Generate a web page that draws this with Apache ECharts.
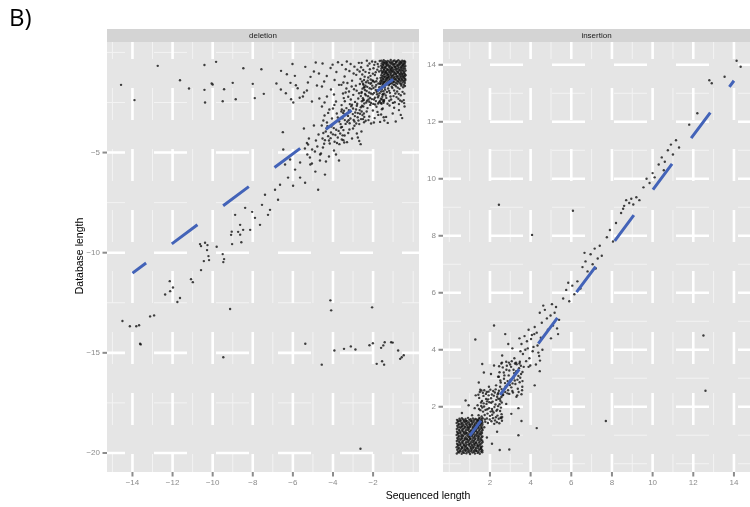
<!DOCTYPE html>
<html><head><meta charset="utf-8">
<script src="https://cdn.jsdelivr.net/npm/echarts@6/dist/echarts.min.js"></script>
<style>html,body{margin:0;padding:0;background:#fff}#c{width:750px;height:507px}</style>
</head><body><div id="c"></div>
<script>
// ---------- facet labels, ticks ----------
const panels = ['deletion', 'insertion'];
const delXTicks = [-14, -12, -10, -8, -6, -4, -2];
const delYTicks = [-20, -15, -10, -5];
const insXTicks = [2, 4, 6, 8, 10, 12, 14];
const insYTicks = [2, 4, 6, 8, 10, 12, 14];
const delXMinor = [-15, -13, -11, -9, -7, -5, -3, -1, 0];
const delYMinor = [-17.5, -12.5, -7.5, -2.5, 0];
const insXMinor = [0, 1, 3, 5, 7, 9, 11, 13];
const insYMinor = [0, 1, 3, 5, 7, 9, 11, 13];

// ---------- fitted lines ----------
const delFitX = [-14, -1];
const delFitY = [-11.02, -1.34];
const insFitX = [1, 14];
const insFitY = [0.98, 13.44];

// ---------- deletion points ----------
const delSquare = [
[-1.59,-0.41],[-1.52,-0.47],[-1.47,-0.39],[-1.38,-0.44],[-1.33,-0.49],[-1.27,-0.42],[-1.19,-0.46],[-1.12,-0.38],[-1.08,-0.48],[-0.99,-0.43],[-0.93,-0.40],[-0.86,-0.47],[-0.81,-0.44],[-0.74,-0.39],[-0.66,-0.45],[-0.61,-0.49],[-0.55,-0.41],[-0.49,-0.46],[-0.44,-0.43],[-0.40,-0.48],
[-1.57,-0.55],[-1.50,-0.60],[-1.43,-0.52],[-1.36,-0.58],[-1.30,-0.54],[-1.23,-0.61],[-1.16,-0.51],[-1.10,-0.57],[-1.03,-0.53],[-0.96,-0.59],[-0.90,-0.56],[-0.84,-0.50],[-0.77,-0.62],[-0.71,-0.54],[-0.64,-0.58],[-0.58,-0.52],[-0.52,-0.60],[-0.47,-0.55],[-0.42,-0.57],[-1.46,-0.51],
[-1.60,-0.66],[-1.54,-0.71],[-1.48,-0.63],[-1.41,-0.73],[-1.34,-0.68],[-1.29,-0.64],[-1.21,-0.70],[-1.14,-0.67],[-1.07,-0.74],[-1.01,-0.62],[-0.94,-0.69],[-0.88,-0.72],[-0.82,-0.65],[-0.75,-0.70],[-0.69,-0.63],[-0.62,-0.73],[-0.56,-0.67],[-0.50,-0.64],[-0.45,-0.71],[-0.39,-0.68],
[-1.58,-0.79],[-1.51,-0.75],[-1.45,-0.84],[-1.39,-0.77],[-1.32,-0.81],[-1.25,-0.86],[-1.18,-0.76],[-1.13,-0.82],[-1.05,-0.78],[-0.98,-0.85],[-0.92,-0.74],[-0.85,-0.80],[-0.79,-0.83],[-0.72,-0.77],[-0.67,-0.86],[-0.60,-0.79],[-0.53,-0.75],[-0.48,-0.83],[-0.41,-0.80],[-1.09,-0.85],
[-1.60,-0.90],[-1.53,-0.95],[-1.46,-0.88],[-1.40,-0.97],[-1.35,-0.92],[-1.28,-0.87],[-1.22,-0.96],[-1.15,-0.89],[-1.09,-0.94],[-1.02,-0.91],[-0.95,-0.98],[-0.89,-0.86],[-0.83,-0.93],[-0.76,-0.97],[-0.70,-0.89],[-0.63,-0.95],[-0.57,-0.88],[-0.51,-0.92],[-0.44,-0.96],[-0.38,-0.90],
[-1.56,-1.03],[-1.49,-0.99],[-1.42,-1.08],[-1.37,-1.01],[-1.30,-1.06],[-1.24,-1.10],[-1.17,-1.00],[-1.11,-1.05],[-1.04,-0.98],[-0.97,-1.09],[-0.91,-1.02],[-0.85,-1.07],[-0.78,-0.99],[-0.73,-1.04],[-0.65,-1.08],[-0.59,-1.01],[-0.54,-1.06],[-0.46,-1.03],[-0.41,-1.09],[-1.33,-1.00],
[-1.59,-1.14],[-1.52,-1.19],[-1.47,-1.11],[-1.40,-1.21],[-1.33,-1.16],[-1.26,-1.12],[-1.20,-1.20],[-1.13,-1.13],[-1.06,-1.18],[-1.00,-1.15],[-0.93,-1.22],[-0.87,-1.10],[-0.80,-1.17],[-0.74,-1.21],[-0.68,-1.13],[-0.61,-1.19],[-0.55,-1.11],[-0.49,-1.16],[-0.43,-1.20],[-0.38,-1.14],
[-1.57,-1.26],[-1.50,-1.31],[-1.44,-1.23],[-1.37,-1.33],[-1.31,-1.28],[-1.24,-1.24],[-1.18,-1.32],[-1.10,-1.25],[-1.04,-1.30],[-0.97,-1.27],[-0.90,-1.34],[-0.84,-1.22],[-0.78,-1.29],[-0.71,-1.33],[-0.64,-1.25],[-0.58,-1.31],[-0.52,-1.23],[-0.46,-1.28],[-0.40,-1.32],[-1.28,-1.26],
[-1.60,-1.38],[-1.54,-1.43],[-1.48,-1.35],[-1.41,-1.45],[-1.35,-1.40],[-1.28,-1.36],[-1.21,-1.44],[-1.15,-1.37],[-1.08,-1.42],[-1.01,-1.39],[-0.95,-1.46],[-0.88,-1.34],[-0.82,-1.41],[-0.76,-1.45],[-0.69,-1.37],[-0.62,-1.43],[-0.56,-1.35],[-0.50,-1.40],[-0.44,-1.44],[-0.39,-1.38],
[-1.58,-1.50],[-1.51,-1.56],[-1.45,-1.47],[-1.38,-1.60],[-1.32,-1.53],[-1.25,-1.49],[-1.19,-1.58],[-1.12,-1.51],[-1.05,-1.55],[-0.99,-1.48],[-0.92,-1.61],[-0.86,-1.52],[-0.79,-1.57],[-0.73,-1.46],[-0.66,-1.54],[-0.60,-1.59],[-0.53,-1.50],[-0.47,-1.62],[-0.42,-1.53],[-1.16,-1.57]
];
const delNear = [
// (-2,-2)
[-2.55,-1.45],[-2.48,-1.62],[-2.41,-1.88],[-2.36,-2.14],[-2.30,-2.41],[-2.22,-1.52],[-2.17,-1.79],[-2.11,-2.05],[-2.06,-2.33],[-1.99,-2.57],[-1.93,-1.48],[-1.88,-1.71],[-1.82,-1.97],[-1.76,-2.24],[-1.70,-2.49],[-1.63,-1.58],[-1.57,-1.84],[-1.51,-2.10],[-1.45,-2.37],[-2.58,-2.03],[-2.51,-2.29],[-2.44,-2.55],[-2.38,-1.66],[-2.32,-1.93],[-2.25,-2.19],[-2.19,-2.46],[-2.13,-1.57],[-2.08,-1.83],[-2.02,-2.09],[-1.96,-2.35],[-1.90,-2.60],[-1.84,-1.62],[-1.78,-1.90],[-1.72,-2.16],[-1.66,-2.42],[-1.60,-1.95],[-1.54,-2.21],[-1.48,-2.51],[-1.42,-1.75],[-2.56,-2.44],[-2.46,-1.75],[-2.34,-2.50],[-2.27,-1.41],[-2.15,-2.27],[-2.04,-1.66],[-1.95,-2.02],[-1.86,-2.43],[-1.74,-1.55],[-1.68,-2.04],[-1.58,-2.56],[-1.47,-1.52],[-2.53,-1.81],[-2.40,-2.08],[-2.29,-1.72],[-2.20,-2.00],[-2.10,-2.52],[-1.98,-1.78],[-1.91,-2.26],[-1.80,-2.09],[-1.69,-1.74],[-1.61,-2.31],[-1.52,-1.64],[-1.44,-2.06],[-2.47,-2.36],[-2.23,-2.35],[-2.00,-1.43],[-1.87,-1.88],[-1.75,-2.55],[-1.64,-1.45],[-1.49,-2.44],
// (-2,-1)
[-2.57,-0.52],[-2.49,-0.88],[-2.42,-1.21],[-2.35,-1.49],[-2.27,-0.66],[-2.20,-1.02],[-2.12,-1.35],[-2.05,-0.45],[-1.98,-0.79],[-1.91,-1.13],[-1.84,-1.44],[-1.77,-0.58],[-1.70,-0.95],[-1.63,-1.27],[-2.54,-1.10],[-2.45,-1.38],[-2.31,-0.41],[-2.24,-1.25],[-2.16,-0.84],[-2.09,-1.52],[-2.01,-1.06],[-1.94,-0.62],[-1.87,-0.99],[-1.80,-1.30],[-1.73,-0.71],[-1.66,-1.55],[-2.60,-0.74],[-2.38,-0.97],[-2.18,-0.55],[-2.03,-1.40],[-1.89,-0.48],[-1.79,-0.86],[-1.67,-0.43],[-2.50,-1.56],[-2.13,-1.17],
// (-1,-2)
[-1.58,-1.72],[-1.52,-2.10],[-1.46,-2.43],[-1.40,-1.86],[-1.34,-2.27],[-1.28,-2.56],[-1.22,-1.64],[-1.16,-2.02],[-1.10,-2.35],[-1.04,-1.78],[-0.98,-2.18],[-0.92,-2.49],[-0.86,-1.69],[-0.80,-1.95],[-0.74,-2.31],[-0.68,-1.82],[-0.62,-2.14],[-0.56,-2.45],[-0.50,-1.74],[-0.44,-2.06],[-1.55,-2.35],[-1.43,-1.66],[-1.31,-1.98],[-1.19,-2.41],[-1.07,-1.71],[-0.95,-1.90],[-0.83,-2.23],[-0.71,-2.58],[-0.59,-1.66],[-0.47,-2.38],[-1.49,-1.94],[-1.37,-2.15],[-1.25,-1.80],[-1.13,-2.20],[-1.01,-2.52],[-0.89,-2.05],[-0.77,-1.76],[-0.65,-2.40],[-0.53,-1.97],[-0.41,-1.68],[-1.61,-2.52],[-1.20,-1.92],[-0.97,-1.62],[-0.72,-2.07],[-0.45,-2.53],
// (-3..-5,-1)
[-3.55,-0.62],[-3.42,-1.20],[-3.31,-0.45],[-3.18,-0.93],[-3.05,-1.41],[-2.93,-0.71],[-2.84,-1.12],[-2.71,-0.52],[-2.63,-1.33],[-3.48,-1.50],[-3.12,-0.58],[-2.97,-1.05],[-2.78,-0.86],[-3.36,-0.84],[-2.67,-0.95],
[-4.52,-0.55],[-4.31,-1.18],[-4.12,-0.78],[-3.92,-1.38],[-3.75,-0.49],[-4.44,-1.45],[-3.83,-0.98],[-4.02,-0.61],
[-5.38,-0.72],[-5.12,-1.22],[-4.86,-0.50],[-4.70,-1.05],[-5.25,-1.50],[-4.95,-0.95],
// (-3,-2)
[-3.58,-1.62],[-3.50,-2.05],[-3.41,-2.44],[-3.33,-1.80],[-3.24,-2.21],[-3.16,-2.58],[-3.07,-1.70],[-2.99,-2.12],[-2.90,-2.47],[-2.82,-1.91],[-2.74,-2.30],[-2.66,-1.58],[-2.57,-1.98],[-2.49,-2.39],[-2.43,-1.74],[-3.46,-2.28],[-3.28,-1.53],[-3.11,-2.35],[-2.95,-1.84],[-2.79,-2.56],[-2.61,-2.18],[-3.37,-2.00],[-3.20,-1.95],[-2.86,-1.66],[-2.70,-2.04],
// (-4..-5,-2)
[-4.55,-1.70],[-4.30,-2.20],[-4.10,-1.85],[-3.85,-2.45],[-3.70,-1.62],[-4.42,-2.50],[-3.95,-2.10],[-5.30,-1.90],[-5.05,-2.45],[-4.80,-1.65],[-4.68,-2.30],[-5.50,-2.20],
// (-2,-3)
[-2.55,-2.66],[-2.46,-3.05],[-2.37,-3.41],[-2.28,-2.78],[-2.19,-3.20],[-2.10,-3.55],[-2.01,-2.90],[-1.92,-3.28],[-1.83,-2.71],[-1.74,-3.12],[-1.65,-3.47],[-1.56,-2.84],[-1.47,-3.24],[-2.50,-3.33],[-2.32,-2.95],[-2.14,-2.62],[-1.96,-3.50],[-1.78,-2.97],[-1.60,-3.10],[-2.23,-3.38],
// (-1,-3)
[-1.52,-2.80],[-1.35,-3.22],[-1.18,-2.65],[-1.02,-3.05],[-0.87,-3.45],[-0.71,-2.88],[-0.55,-3.28],[-0.43,-2.70],[-1.27,-3.52],[-0.95,-2.76],[-0.62,-3.12],[-1.44,-3.40],
// (-3,-3)
[-3.57,-2.63],[-3.49,-3.02],[-3.41,-3.38],[-3.33,-2.78],[-3.25,-3.17],[-3.17,-3.54],[-3.09,-2.69],[-3.01,-3.08],[-2.93,-3.45],[-2.85,-2.85],[-2.77,-3.24],[-2.69,-3.58],[-2.61,-2.74],[-2.53,-3.13],[-2.45,-3.49],[-3.53,-3.29],[-3.45,-2.91],[-3.37,-3.57],[-3.21,-2.88],[-3.13,-3.30],[-3.05,-2.61],[-2.97,-3.37],[-2.89,-3.00],[-2.81,-2.66],[-2.73,-3.40],[-2.65,-3.06],[-2.57,-2.95],[-2.49,-2.70],[-3.29,-3.46],[-3.00,-2.80],[-2.84,-3.55],[-2.60,-3.33],[-3.40,-3.10],[-3.15,-2.98],[-2.91,-3.18],[-2.67,-2.88],[-2.44,-3.22],[-3.56,-2.85],[-3.22,-3.39],[-2.76,-3.03],
// (-4,-3)
[-4.55,-2.70],[-4.42,-3.15],[-4.30,-3.50],[-4.18,-2.85],[-4.05,-3.30],[-3.93,-2.62],[-3.81,-3.05],[-3.69,-3.45],[-3.58,-2.95],[-4.48,-3.40],[-4.24,-3.02],[-4.00,-2.80],[-3.76,-3.25],[-3.62,-3.58],
// (-3,-4)
[-3.55,-3.72],[-3.42,-4.15],[-3.30,-4.48],[-3.18,-3.85],[-3.05,-4.30],[-2.93,-3.66],[-2.81,-4.05],[-2.69,-4.42],[-2.58,-3.95],[-3.48,-4.38],[-3.24,-4.02],[-3.00,-3.80],[-2.76,-4.25],[-2.62,-4.58],
// (-4,-4)
[-4.56,-3.65],[-4.48,-4.02],[-4.40,-4.38],[-4.32,-3.80],[-4.24,-4.18],[-4.16,-4.55],[-4.08,-3.70],[-4.00,-4.09],[-3.92,-4.46],[-3.84,-3.86],[-3.76,-4.25],[-3.68,-4.58],[-3.60,-3.75],[-3.52,-4.14],[-3.44,-4.50],[-4.52,-4.30],[-4.36,-3.95],[-4.20,-4.40],[-4.04,-3.62],[-3.88,-4.12],[-3.72,-3.92],[-3.56,-4.35],[-4.44,-4.56],[-4.12,-4.28],[-3.96,-3.78],[-3.80,-4.52],[-3.64,-4.05],[-4.28,-3.68],[-3.48,-3.88],[-4.10,-4.00],
// (-5,-4) (-4,-5) (-5,-5)
[-5.45,-3.80],[-5.20,-4.30],[-4.95,-3.65],[-4.72,-4.10],[-5.30,-4.52],[-4.85,-4.40],
[-4.50,-4.75],[-4.20,-5.20],[-3.95,-4.90],[-3.70,-5.40],[-4.35,-5.45],[-3.85,-5.10],
[-5.40,-4.80],[-5.15,-5.25],[-4.90,-4.95],[-4.65,-5.40],[-5.05,-5.55],[-4.78,-4.70],[-5.28,-5.10],[-4.60,-5.05]
];
const delTail = [
// sparse points near the top
[-14.57,-1.62],[-13.90,-2.38],[-12.74,-0.67],[-11.63,-1.39],[-11.18,-1.80],[-10.41,-0.63],[-9.83,-0.47],[-10.41,-1.87],[-10.38,-2.50],[-10.05,-1.55],[-10.00,-1.60],[-9.43,-1.84],[-9.50,-2.44],[-9.00,-1.52],[-8.85,-2.34],[-8.47,-0.79],[-8.00,-1.57],[-7.90,-2.28],[-7.57,-0.84],[-7.45,-2.07],[-6.82,-1.55],[-6.59,-0.92],[-6.60,-1.85],[-6.30,-1.09],[-6.12,-1.52],[-6.02,-0.58],[-5.90,-1.17],[-6.35,-2.04],[-6.09,-2.34],[-5.98,-2.50],[-5.76,-1.79],[-5.66,-2.26],[-6.50,-3.98],[-5.85,-1.64],[-5.44,-2.00],
// diagonal
[-6.48,-4.85],[-6.14,-5.35],[-5.89,-5.85],[-5.64,-6.25],[-5.39,-6.51],[-5.13,-5.60],[-4.88,-5.95],[-4.64,-5.10],[-6.24,-6.25],[-5.99,-6.66],[-5.64,-5.50],[-6.39,-5.60],[-5.04,-4.85],[-4.40,-6.10],[-4.74,-6.86],[-5.24,-4.60],
[-7.89,-8.26],[-7.54,-7.61],[-7.39,-7.11],[-7.14,-7.86],[-6.89,-6.86],[-6.74,-7.36],[-7.64,-8.61],[-8.13,-8.86],[-7.24,-8.11],[-6.64,-6.61],[-8.88,-8.11],[-8.63,-8.61],[-8.38,-7.76],[-8.03,-7.96],[-8.73,-8.96],
[-9.05,-8.95],[-9.08,-9.11],[-8.63,-9.10],[-8.57,-9.48],[-9.03,-9.57],[-8.48,-8.86],
[-10.63,-9.57],[-10.38,-9.50],[-10.26,-9.62],[-10.58,-9.67],[-9.80,-9.70],[-10.28,-9.87],[-10.21,-10.17],[-10.44,-10.42],[-10.18,-10.37],[-9.50,-10.07],[-9.43,-10.32],[-9.47,-10.47],[-10.58,-10.87],[-11.08,-11.32],[-10.99,-11.47],[-12.14,-11.42],[-11.98,-11.74],[-12.12,-11.92],[-12.37,-12.09],[-11.63,-12.26],[-11.76,-12.46],[-9.13,-12.81],[-12.92,-13.13],[-13.12,-13.18],[-14.50,-13.41],[-14.13,-13.67],[-13.81,-13.67],[-13.67,-13.62],[-13.62,-14.55],[-13.59,-14.58],
// lower band
[-9.47,-15.22],[-5.38,-14.55],[-4.56,-15.59],[-3.93,-14.88],[-3.45,-14.80],[-3.11,-14.68],[-2.88,-14.83],[-2.18,-14.62],[-2.01,-14.52],[-1.60,-14.75],[-1.49,-14.63],[-1.42,-14.47],[-1.10,-14.47],[-1.02,-14.49],[-0.75,-14.88],[-0.65,-15.30],[-0.57,-15.22],[-0.47,-15.12],[-1.82,-15.55],[-1.55,-15.42],[-1.45,-15.59],
[-4.13,-12.38],[-4.09,-12.88],[-2.05,-12.73],[-2.63,-19.79]
];

// ---------- insertion points ----------
const insSquare = [
[0.37,0.36],[0.43,0.42],[0.48,0.39],[0.55,0.44],[0.61,0.35],[0.66,0.41],[0.72,0.38],[0.79,0.45],[0.84,0.37],[0.90,0.43],[0.97,0.40],[1.02,0.34],[1.08,0.44],[1.14,0.39],[1.21,0.42],[1.26,0.36],[1.32,0.45],[1.39,0.38],[1.44,0.41],[1.50,0.35],[1.57,0.43],[1.62,0.40],
[0.39,0.49],[0.45,0.53],[0.51,0.46],[0.57,0.51],[0.63,0.55],[0.69,0.47],[0.75,0.52],[0.81,0.48],[0.87,0.54],[0.93,0.50],[0.99,0.46],[1.05,0.53],[1.11,0.49],[1.17,0.55],[1.23,0.47],[1.29,0.51],[1.35,0.45],[1.41,0.54],[1.47,0.48],[1.53,0.52],[1.59,0.50],[1.63,0.46],
[0.36,0.58],[0.42,0.63],[0.47,0.56],[0.53,0.65],[0.60,0.60],[0.65,0.57],[0.71,0.64],[0.78,0.59],[0.83,0.62],[0.89,0.55],[0.96,0.66],[1.01,0.61],[1.07,0.57],[1.13,0.63],[1.20,0.59],[1.25,0.65],[1.31,0.56],[1.38,0.62],[1.43,0.60],[1.49,0.64],[1.56,0.58],[1.61,0.61],
[0.38,0.70],[0.44,0.67],[0.50,0.74],[0.56,0.69],[0.62,0.75],[0.68,0.71],[0.74,0.66],[0.80,0.73],[0.86,0.68],[0.92,0.76],[0.98,0.70],[1.04,0.72],[1.10,0.67],[1.16,0.75],[1.22,0.69],[1.28,0.73],[1.34,0.71],[1.40,0.66],[1.46,0.74],[1.52,0.68],[1.58,0.72],[1.64,0.76],
[0.37,0.80],[0.43,0.85],[0.48,0.78],[0.55,0.83],[0.61,0.87],[0.66,0.79],[0.72,0.82],[0.79,0.86],[0.84,0.77],[0.90,0.84],[0.97,0.81],[1.02,0.87],[1.08,0.78],[1.14,0.83],[1.21,0.80],[1.26,0.85],[1.32,0.76],[1.39,0.82],[1.44,0.86],[1.50,0.79],[1.57,0.84],[1.62,0.81],
[0.39,0.90],[0.45,0.94],[0.51,0.88],[0.57,0.96],[0.63,0.91],[0.69,0.97],[0.75,0.89],[0.81,0.93],[0.87,0.87],[0.93,0.95],[0.99,0.92],[1.05,0.88],[1.11,0.96],[1.17,0.90],[1.23,0.94],[1.29,0.89],[1.35,0.97],[1.41,0.91],[1.47,0.95],[1.53,0.88],[1.59,0.93],[1.63,0.96],
[0.36,1.01],[0.42,1.05],[0.47,0.98],[0.53,1.07],[0.60,1.02],[0.65,0.99],[0.71,1.06],[0.78,1.03],[0.83,1.08],[0.89,1.00],[0.96,1.04],[1.01,0.97],[1.07,1.07],[1.13,1.01],[1.20,1.05],[1.25,0.98],[1.31,1.03],[1.38,1.06],[1.43,0.99],[1.49,1.04],[1.56,1.02],[1.61,1.08],
[0.38,1.12],[0.44,1.09],[0.50,1.16],[0.56,1.11],[0.62,1.17],[0.68,1.13],[0.74,1.10],[0.80,1.15],[0.86,1.08],[0.92,1.18],[0.98,1.12],[1.04,1.14],[1.10,1.09],[1.16,1.17],[1.22,1.11],[1.28,1.15],[1.34,1.13],[1.40,1.10],[1.46,1.16],[1.52,1.09],[1.58,1.14],[1.64,1.18],
[0.37,1.22],[0.43,1.27],[0.48,1.19],[0.55,1.25],[0.61,1.29],[0.66,1.21],[0.72,1.24],[0.79,1.28],[0.84,1.20],[0.90,1.26],[0.97,1.23],[1.02,1.29],[1.08,1.18],[1.14,1.25],[1.21,1.22],[1.26,1.27],[1.32,1.20],[1.39,1.24],[1.44,1.28],[1.50,1.21],[1.57,1.26],[1.62,1.23],
[0.39,1.33],[0.45,1.37],[0.51,1.30],[0.57,1.38],[0.63,1.32],[0.69,1.36],[0.75,1.31],[0.81,1.39],[0.87,1.34],[0.93,1.29],[0.99,1.37],[1.05,1.33],[1.11,1.38],[1.17,1.30],[1.23,1.35],[1.29,1.32],[1.35,1.39],[1.41,1.31],[1.47,1.36],[1.53,1.34],[1.59,1.30],[1.63,1.37],
[0.36,1.43],[0.42,1.47],[0.47,1.40],[0.53,1.49],[0.60,1.44],[0.65,1.41],[0.71,1.48],[0.78,1.45],[0.83,1.50],[0.89,1.42],[0.96,1.46],[1.01,1.39],[1.07,1.49],[1.13,1.43],[1.20,1.47],[1.25,1.40],[1.31,1.45],[1.38,1.48],[1.43,1.41],[1.49,1.46],[1.56,1.44],[1.61,1.50],
[0.38,1.54],[0.44,1.51],[0.50,1.58],[0.56,1.53],[0.62,1.60],[0.68,1.55],[0.74,1.52],[0.80,1.57],[0.86,1.50],[0.92,1.61],[0.98,1.54],[1.04,1.56],[1.10,1.51],[1.16,1.59],[1.22,1.53],[1.28,1.57],[1.34,1.55],[1.40,1.52],[1.46,1.58],[1.52,1.51],[1.58,1.56],[1.64,1.60]
];
const insNear = [
// (2,2)
[1.41,1.52],[1.47,2.31],[1.53,1.88],[1.58,2.57],[1.63,1.44],[1.69,2.12],[1.74,1.71],[1.80,2.45],[1.85,1.59],[1.91,2.26],[1.96,1.95],[2.02,2.60],[2.07,1.49],[2.13,2.18],[2.18,1.80],[2.24,2.50],[2.29,1.63],[2.35,2.35],[2.40,2.02],[2.46,1.42],[2.51,2.21],[2.57,1.74],[2.61,2.48],
[1.39,2.05],[1.44,1.70],[1.50,2.52],[1.55,1.40],[1.61,2.20],[1.66,1.83],[1.72,2.58],[1.77,1.47],[1.83,2.10],[1.88,1.76],[1.94,2.40],[1.99,1.55],[2.05,2.30],[2.10,1.92],[2.16,2.55],[2.21,1.40],[2.27,2.08],[2.32,1.86],[2.38,2.44],[2.43,1.58],[2.49,2.28],[2.54,1.97],[2.59,1.51],
[1.43,2.42],[1.49,1.61],[1.56,2.15],[1.62,1.97],[1.68,2.38],[1.75,1.55],[1.81,2.27],[1.87,1.91],[1.93,2.53],[2.00,1.68],[2.06,2.14],[2.12,1.85],[2.19,2.39],[2.25,1.52],[2.31,2.24],[2.37,1.69],[2.44,2.56],[2.50,1.85],[2.56,2.34],[2.60,1.64],
[1.46,1.92],[1.59,1.66],[1.71,2.01],[1.84,2.52],[1.97,2.16],[2.09,2.43],[2.22,1.99],[2.34,1.46],[2.47,2.09],[1.52,2.60],[1.65,2.49],[1.78,1.89],[1.90,1.43],[2.03,1.83],[2.15,1.60],[2.28,2.61],[2.41,2.28],[2.53,1.62],[1.57,2.03],[1.86,2.19],[2.11,1.72],[2.36,1.90],[2.58,2.15],
// (3,3)
[2.41,2.48],[2.47,3.21],[2.53,2.85],[2.59,3.55],[2.65,2.42],[2.71,3.10],[2.77,2.71],[2.83,3.44],[2.89,2.58],[2.95,3.27],[3.01,2.95],[3.07,3.60],[3.13,2.50],[3.19,3.18],[3.25,2.80],[3.31,3.49],[3.37,2.63],[3.43,3.35],[3.49,3.02],[3.55,2.44],[3.60,3.22],
[2.44,3.05],[2.50,2.70],[2.56,3.52],[2.62,2.40],[2.68,3.20],[2.74,2.83],[2.80,3.58],[2.86,2.47],[2.92,3.10],[2.98,2.76],[3.04,3.40],[3.10,2.55],[3.16,3.30],[3.22,2.92],[3.28,3.55],[3.34,2.40],[3.40,3.08],[3.46,2.86],[3.52,3.44],[3.58,2.58],
[2.45,3.42],[2.57,2.62],[2.69,2.98],[2.81,3.30],[2.93,3.55],[3.05,2.68],[3.17,3.02],[3.29,3.25],[3.41,2.52],[3.53,3.15],[2.51,2.92],[2.63,3.38],[2.75,2.52],[2.87,2.90],[2.99,3.48],[3.11,2.82],[3.23,3.52],[3.35,2.95],[3.47,3.58],[3.59,2.70],
// neighbours
[0.62,1.78],[0.95,2.05],[1.12,1.70],[1.30,2.40],[0.80,2.22],[1.25,1.95],
[1.55,0.55],[1.85,0.92],[2.10,0.70],[2.35,1.12],[1.72,1.28],[2.48,0.48],
[1.45,2.85],[1.70,3.20],[1.95,2.70],[2.20,3.45],[2.40,3.05],[1.62,3.50],[2.05,3.15],[2.30,2.75],
[2.55,1.60],[2.80,2.10],[3.05,1.75],[3.30,2.35],[3.55,1.50],[2.95,2.45],[3.40,1.95],
[2.60,3.80],[2.90,4.20],[3.20,3.70],[3.45,4.40],[2.75,4.55],[3.10,4.05],
[3.60,2.90],[3.90,3.40],[4.20,2.75],[4.45,3.25],
// (4,4)
[3.45,3.52],[3.55,4.20],[3.62,3.85],[3.70,4.48],[3.78,3.60],[3.86,4.05],[3.94,3.70],[4.02,4.38],[4.10,3.95],[4.18,4.55],[4.26,3.48],[4.34,4.15],[4.42,3.78],[4.50,4.42],[4.58,4.00],[3.50,3.95],[3.82,4.30],[3.98,3.45],[4.14,4.10],[4.30,4.60],[4.46,3.62],[3.66,3.40],[4.06,4.52],[4.38,3.90],[3.74,4.00]
];
const insTail = [
[4.55,4.95],[4.70,5.40],[4.85,4.70],[4.98,5.20],[5.10,4.85],[5.25,5.50],[5.40,5.05],[4.62,5.55],[5.05,5.60],[5.30,4.75],[4.80,5.10],[5.18,5.30],
[4.20,4.80],[4.45,5.30],[5.00,4.40],[5.35,4.55],[3.90,4.70],
[5.60,5.80],[5.75,6.10],[5.90,5.70],[6.05,6.25],[6.15,5.95],[6.30,6.40],[5.85,6.35],[6.45,6.15],
[6.55,6.90],[6.70,7.10],[6.80,6.75],[6.95,7.35],[7.05,7.00],[7.15,7.55],[7.30,7.20],[7.40,7.65],[6.65,7.40],[7.50,7.30],[7.20,6.85],
[7.75,7.95],[7.90,8.20],[8.05,7.80],[8.20,8.45],
[8.45,8.80],[8.60,9.05],[8.70,9.25],[8.85,9.15],[8.95,9.30],[9.05,9.10],[9.20,9.35],[8.55,8.95],[9.35,9.25],
[9.55,9.70],[9.70,10.00],[9.85,9.85],[10.00,10.20],[10.10,10.05],
[10.30,10.50],[10.45,10.75],[10.60,10.60],[10.75,11.00],[10.90,11.20],[11.00,10.85],[11.15,11.35],[10.55,10.30],[11.30,11.10],
[11.80,11.90],[12.20,12.30],
[12.79,13.46],[12.91,13.35],[13.54,13.58],[14.13,14.14],[14.33,13.93],
[1.28,4.36],[2.44,9.09],[4.07,8.03],[6.08,8.88],[7.70,1.50],[12.50,4.50],[12.60,2.56],[2.95,0.50],[3.40,1.00],[4.30,1.25],[2.20,4.85]
];

// ---------- chart ----------
const FONT = 'Liberation Sans';
const minus = v => String(v).replace('-', '\u2212');
const delX = [-15.27, 0.29], delY = [-20.95, 0.52];
const insX = [-0.31, 14.79], insY = [-0.29, 14.80];

function gridData(xMinor, xMajor, yMinor, yMajor) {
  const d = [];
  xMinor.forEach(v => d.push([v, 0, 0]));
  yMinor.forEach(v => d.push([v, 1, 0]));
  xMajor.forEach(v => d.push([v, 0, 1]));
  yMajor.forEach(v => d.push([v, 1, 1]));
  return d;
}
function gridSeries(idx, data, xr, yr) {
  return {
    type: 'custom', xAxisIndex: idx, yAxisIndex: idx, silent: true, z: 1, clip: true,
    data: data,
    renderItem: function (params, api) {
      const v = api.value(0), dir = api.value(1), major = api.value(2);
      let p1, p2, dash;
      if (dir === 0) { p1 = api.coord([v, yr[1]]); p2 = api.coord([v, yr[0]]); dash = [32, 29]; }
      else { p1 = api.coord([xr[0], v]); p2 = api.coord([xr[1], v]); dash = [33, 29]; }
      return {
        type: 'line', z2: major ? 2 : 1,
        shape: { x1: p1[0], y1: p1[1], x2: p2[0], y2: p2[1] },
        style: { stroke: major ? '#FFFFFF' : '#F3F3F3', lineWidth: major ? 2.6 : 1, lineDash: dash, lineDashOffset: 15 }
      };
    }
  };
}
// axis tick marks (outside the panel), placed through the axis scales
function tickSeries(idx, xTicks, yTicks, xr, yr) {
  const d = [];
  xTicks.forEach(v => d.push([v, 0]));
  yTicks.forEach(v => d.push([v, 1]));
  return {
    type: 'custom', xAxisIndex: idx, yAxisIndex: idx, silent: true, z: 2, clip: false,
    data: d,
    renderItem: function (params, api) {
      const v = api.value(0), dir = api.value(1);
      let shape;
      if (dir === 0) { const p = api.coord([v, yr[0]]); shape = { x1: p[0], y1: p[1], x2: p[0], y2: p[1] + 4.5 }; }
      else { const p = api.coord([xr[0], v]); shape = { x1: p[0] - 4.5, y1: p[1], x2: p[0], y2: p[1] }; }
      return { type: 'line', shape: shape, style: { stroke: '#8C8C8C', lineWidth: 2 } };
    }
  };
}
function valAxis(range, ticks, gridIndex) {
  return {
    type: 'value', gridIndex: gridIndex, min: range[0], max: range[1],
    axisLine: { show: false }, splitLine: { show: false }, axisTick: { show: false },
    axisLabel: { customValues: ticks, color: '#8C8C8C', fontSize: 8, fontFamily: FONT, margin: 7, formatter: minus }
  };
}

const chart = echarts.init(document.getElementById('c'), null, { renderer: 'canvas' });
chart.setOption({
  animation: false,
  backgroundColor: '#FFFFFF',
  grid: [
    { left: 107, top: 42, width: 312, height: 430, show: true, backgroundColor: '#E5E5E5', borderWidth: 0 },
    { left: 443, top: 42, width: 307, height: 430, show: true, backgroundColor: '#E5E5E5', borderWidth: 0 }
  ],
  xAxis: [valAxis(delX, delXTicks, 0), valAxis(insX, insXTicks, 1)],
  yAxis: [valAxis(delY, delYTicks, 0), valAxis(insY, insYTicks, 1)],
  series: [
    gridSeries(0, gridData(delXMinor, delXTicks, delYMinor, delYTicks), delX, delY),
    gridSeries(1, gridData(insXMinor, insXTicks, insYMinor, insYTicks), insX, insY),
    tickSeries(0, delXTicks, delYTicks, delX, delY),
    tickSeries(1, insXTicks, insYTicks, insX, insY),
    { type: 'scatter', xAxisIndex: 0, yAxisIndex: 0, symbolSize: 2.4, z: 3, silent: true,
      itemStyle: { color: '#111111' }, data: delSquare.concat(delNear, delTail) },
    { type: 'scatter', xAxisIndex: 1, yAxisIndex: 1, symbolSize: 2.4, z: 3, silent: true,
      itemStyle: { color: '#111111' }, data: insSquare.concat(insNear, insTail) },
    { type: 'line', xAxisIndex: 0, yAxisIndex: 0, z: 4, showSymbol: false, silent: true,
      data: delFitX.map((x, i) => [x, delFitY[i]]),
      lineStyle: { color: '#4363B8', width: 3, type: [32, 32], dashOffset: 15 } },
    { type: 'line', xAxisIndex: 1, yAxisIndex: 1, z: 4, showSymbol: false, silent: true,
      data: insFitX.map((x, i) => [x, insFitY[i]]),
      lineStyle: { color: '#4363B8', width: 3, type: [32, 32], dashOffset: 13 } }
  ],
  graphic: [
    { type: 'rect', left: 107, top: 29, shape: { width: 312, height: 13 }, style: { fill: '#D4D4D4' }, silent: true },
    { type: 'rect', left: 443, top: 29, shape: { width: 307, height: 13 }, style: { fill: '#D4D4D4' }, silent: true },
    { type: 'text', x: 263, y: 36, style: { text: panels[0], fill: '#1A1A1A', font: '8px "Liberation Sans"', textAlign: 'center', textVerticalAlign: 'middle' } },
    { type: 'text', x: 596.5, y: 36, style: { text: panels[1], fill: '#1A1A1A', font: '8px "Liberation Sans"', textAlign: 'center', textVerticalAlign: 'middle' } },
    { type: 'text', x: 428, y: 496, style: { text: 'Sequenced length', fill: '#000000', font: '10.5px "Liberation Sans"', textAlign: 'center', textVerticalAlign: 'middle' } },
    { type: 'text', x: 80, y: 256, rotation: Math.PI / 2, style: { text: 'Database length', fill: '#000000', font: '10.5px "Liberation Sans"', textAlign: 'center', textVerticalAlign: 'middle' } },
    { type: 'text', x: 9, y: 19, style: { text: 'B)', fill: '#000000', font: '24px "Open Sans"', textAlign: 'left', textVerticalAlign: 'middle' } }
  ]
});
</script>
</body></html>
